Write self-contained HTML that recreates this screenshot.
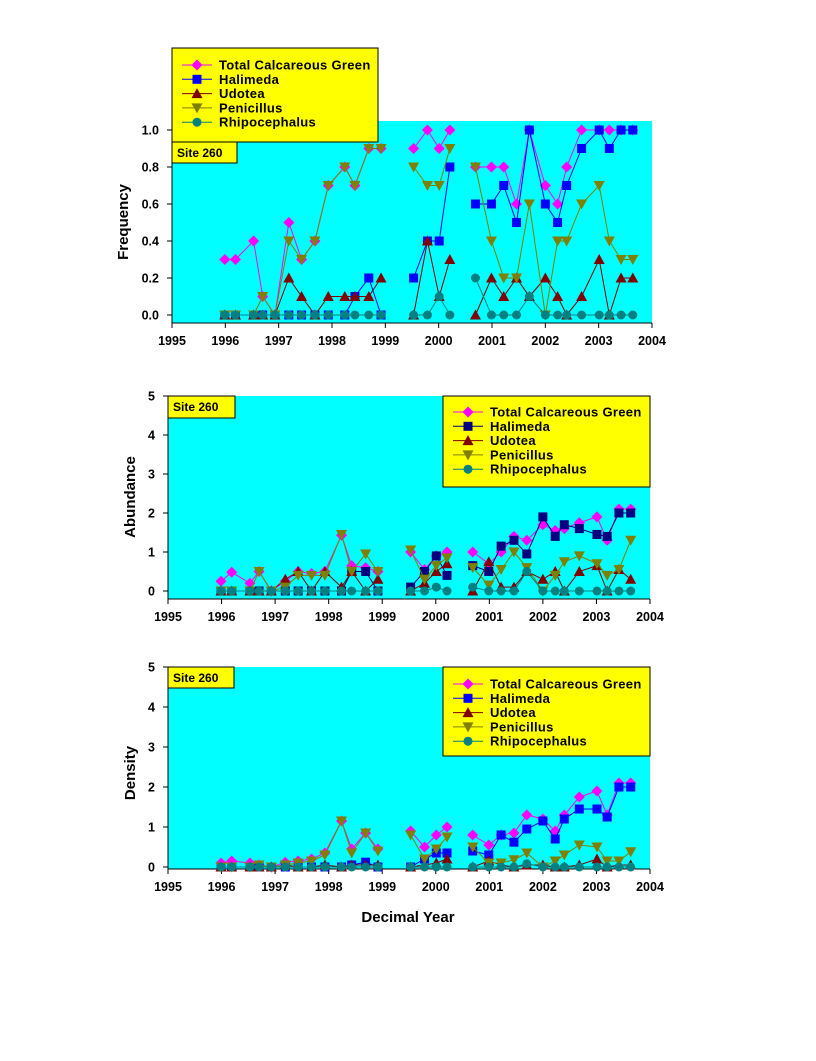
<!DOCTYPE html>
<html><head><meta charset="utf-8"><style>
body{margin:0;background:#fff;}
svg text{font-family:"Liberation Sans",Arial,sans-serif;font-weight:bold;}
</style></head><body>
<svg id="s" width="816" height="1056" xmlns="http://www.w3.org/2000/svg"></svg>
<script>
const dates=[1995.99,1996.19,1996.53,1996.70,1996.93,1997.19,1997.43,1997.68,1997.93,1998.24,1998.43,1998.69,1998.92,null,1999.53,1999.79,2000.01,2000.21,null,2000.69,2000.99,2001.22,2001.46,2001.70,2002.00,2002.23,2002.40,2002.68,2003.01,2003.20,2003.42,2003.64];
function ex(a){return [...a.slice(0,13),null,...a.slice(13,17),null,...a.slice(17)];}
const C={
 t:{c:'#ff00ff',m:'d'},h:{c:'#0000ff',m:'s'},u:{c:'#800000',m:'u'},p:{c:'#808000',m:'v'},r:{c:'#008080',m:'o'}};
let out='';
function mk(type,x,y,c){
 const s=4.5;
 if(type==='d')return `<polygon points="${x},${y-s-1} ${x+s+1},${y} ${x},${y+s+1} ${x-s-1},${y}" fill="${c}"/>`;
 if(type==='s')return `<rect x="${x-s}" y="${y-s}" width="${2*s}" height="${2*s}" fill="${c}"/>`;
 if(type==='u')return `<polygon points="${x},${y-s-1} ${x+s+1},${y+s} ${x-s-1},${y+s}" fill="${c}"/>`;
 if(type==='v')return `<polygon points="${x},${y+s+1} ${x+s+1},${y-s} ${x-s-1},${y-s}" fill="${c}"/>`;
 return `<circle cx="${x}" cy="${y}" r="${s}" fill="${c}"/>`;
}
function chart(o){
 const {L,R,T,B,y0,yTop,vmax,ticks,fmt,series,leg,site,ylab,ylx,yly}=o;
 const X=v=>L+(v-1995)/9*(R-L);
 const Y=v=>y0-(v/vmax)*(y0-yTop);
 out+=`<rect x="${L}" y="${T}" width="${R-L}" height="${B-T}" fill="#00ffff"/>`;
 out+=`<line x1="${L}" y1="${T}" x2="${L}" y2="${B}" stroke="#000"/><line x1="${L}" y1="${B}" x2="${R}" y2="${B}" stroke="#000"/>`;
 for(let i=0;i<=9;i++){const x=X(1995+i);out+=`<line x1="${x}" y1="${B}" x2="${x}" y2="${B+5}" stroke="#000"/><text x="${x}" y="${B+22}" font-size="12.5" text-anchor="middle">${1995+i}</text>`;}
 ticks.forEach(t=>{const y=Y(t);out+=`<line x1="${L-5}" y1="${y}" x2="${L}" y2="${y}" stroke="#000"/><text x="${L-13}" y="${y+4.5}" font-size="12.5" text-anchor="end">${fmt(t)}</text>`;});
 series.forEach(([k,arr,col])=>{
  const c=col||C[k].c; const d=ex(arr); let seg=[];const segs=[];
  d.forEach((v,i)=>{if(v===null){if(seg.length)segs.push(seg);seg=[];}else seg.push([X(dates[i]),Y(v)]);});
  if(seg.length)segs.push(seg);
  segs.forEach(s=>out+=`<polyline points="${s.map(p=>p.join(',')).join(' ')}" fill="none" stroke="${c}" stroke-width="1"/>`);
  segs.forEach(s=>s.forEach(p=>out+=mk(C[k].m,p[0],p[1],c)));
 });
 out+=`<rect x="${leg.x}" y="${leg.y}" width="${leg.w}" height="${leg.h}" fill="#ffff00" stroke="#000"/>`;
 const names=['Total Calcareous Green','Halimeda','Udotea','Penicillus','Rhipocephalus'];
 series.forEach(([k,a,col],i)=>{const c=col||C[k].c;const y=leg.y+leg.dy+i*14.3;
  out+=`<line x1="${leg.x+10}" y1="${y}" x2="${leg.x+40}" y2="${y}" stroke="${c}"/>`+mk(C[k].m,leg.x+25,y,c)+`<text x="${leg.x+47}" y="${y+4.5}" font-size="13" letter-spacing="0.3">${names[i]}</text>`;});
 out+=`<rect x="${site.x}" y="${site.y}" width="${site.w}" height="${site.h}" fill="#ffff00" stroke="#000"/><text x="${site.x+5}" y="${site.y+15}" font-size="12">Site 260</text>`;
 out+=`<text transform="translate(${ylx},${yly}) rotate(-90)" font-size="15" text-anchor="middle">${ylab}</text>`;
}
chart({L:172,R:652,T:121,B:323,y0:315,yTop:130,vmax:1,ticks:[0,.2,.4,.6,.8,1],fmt:v=>v.toFixed(1),
 series:[
 ['t',[.3,.3,.4,.1,0,.5,.3,.4,.7,.8,.7,.9,.9,.9,1,.9,1,.8,.8,.8,.6,1,.7,.6,.8,1,1,1,1,1]],
 ['h',[0,0,0,0,0,0,0,0,0,0,.1,.2,0,.2,.4,.4,.8,.6,.6,.7,.5,1,.6,.5,.7,.9,1,.9,1,1]],
 ['u',[0,0,0,0,0,.2,.1,0,.1,.1,.1,.1,.2,0,.4,.1,.3,0,.2,.1,.2,.1,.2,.1,0,.1,.3,0,.2,.2]],
 ['p',[0,0,0,.1,0,.4,.3,.4,.7,.8,.7,.9,.9,.8,.7,.7,.9,.8,.4,.2,.2,.6,0,.4,.4,.6,.7,.4,.3,.3]],
 ['r',[0,0,0,0,0,0,0,0,0,0,0,0,0,0,0,.1,0,.2,0,0,0,.1,0,0,0,0,0,0,0,0]]],
 leg:{x:172,y:48,w:206,h:94,dy:17},site:{x:172,y:142,w:65,h:21},ylab:'Frequency',ylx:128,yly:222});
chart({L:168,R:650,T:396,B:599,y0:591,yTop:396,vmax:5,ticks:[0,1,2,3,4,5],fmt:v=>v,
 series:[
 ['t',[.25,.48,.2,.5,0,.25,.5,.45,.5,1.43,.65,.6,.5,1,.55,.9,1,1,.7,1,1.4,1.3,1.7,1.55,1.6,1.75,1.9,1.3,2.1,2.1]],
 ['h',[0,0,0,0,0,0,0,0,0,0,.5,.5,0,.1,.5,.9,.4,.65,.5,1.15,1.3,.95,1.9,1.4,1.7,1.6,1.45,1.4,2,2],'#000080'],
 ['u',[0,0,0,0,0,.3,.5,0,.5,.1,.5,0,.3,0,.2,.5,.7,0,.75,.1,.1,.5,.3,.5,0,.5,.65,0,.55,.3]],
 ['p',[0,0,0,.5,0,.1,.4,.4,.4,1.45,.5,.95,.5,1.05,.3,.65,.85,.6,.15,.55,1,.6,0,.4,.75,.9,.7,.4,.55,1.3]],
 ['r',[0,0,0,0,0,0,0,0,0,0,0,0,0,0,0,.1,0,.1,0,0,0,.5,0,0,0,0,0,0,0,0]]],
 leg:{x:443,y:396,w:207,h:91,dy:16},site:{x:168,y:396,w:67,h:22},ylab:'Abundance',ylx:135,yly:497});
chart({L:168,R:650,T:667,B:869,y0:867,yTop:667,vmax:5,ticks:[0,1,2,3,4,5],fmt:v=>v,
 series:[
 ['t',[.1,.15,.1,.05,0,.12,.15,.2,.35,1.15,.45,.85,.45,.9,.5,.8,1,.8,.55,.8,.85,1.3,1.2,.9,1.3,1.75,1.9,1.3,2.1,2.1]],
 ['h',[0,0,0,0,0,0,0,0,0,0,.05,.12,0,0,.2,.35,.35,.4,.3,.8,.62,.95,1.15,.7,1.2,1.45,1.45,1.25,2,2]],
 ['u',[0,0,0,0,0,.05,0,0,.05,0,.05,.05,.05,0,.05,.1,.2,0,.15,.05,0,.05,.05,0,0,.05,.2,0,.05,.05]],
 ['p',[0,0,0,.05,0,.05,.1,.15,.3,1.15,.35,.85,.4,.8,.2,.45,.75,.5,.1,.1,.18,.35,0,.15,.3,.55,.5,.15,.15,.38]],
 ['r',[0,0,0,0,0,0,0,0,0,0,0,0,0,0,0,0,0,0,0,0,0,.08,0,0,0,0,0,0,0,0]]],
 leg:{x:443,y:667,w:207,h:89,dy:17},site:{x:168,y:667,w:66,h:21},ylab:'Density',ylx:135,yly:773});
out+=`<text x="408" y="922" font-size="15" text-anchor="middle">Decimal Year</text>`;
document.getElementById('s').innerHTML=out;
</script>
</body></html>
